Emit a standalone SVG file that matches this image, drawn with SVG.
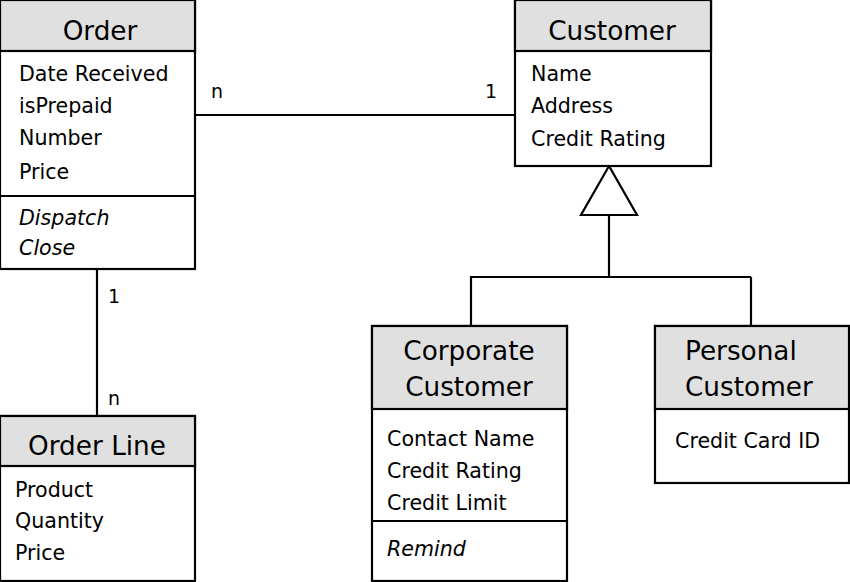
<svg xmlns="http://www.w3.org/2000/svg" width="850" height="582" viewBox="0 0 850 582">
<style>
.box{fill:#ffffff;stroke:#000;stroke-width:2.2}
.hdr{fill:#e0e0e0;stroke:#000;stroke-width:2.2}
.ln{stroke:#000;stroke-width:2.2;fill:none}
text{font-family:"DejaVu Sans","Liberation Sans",sans-serif;fill:#000}
.t{font-size:26.3px;text-anchor:middle}
.th{font-size:26.3px}
.a{font-size:20.6px}
.op{font-size:20.6px;font-style:italic}
.m{font-size:19px}
</style>
<rect width="850" height="582" fill="#fff"/>
<g id="connectors">
<line class="ln" x1="195" y1="115" x2="515" y2="115"/>
<line class="ln" x1="97" y1="269" x2="97" y2="416"/>
<polygon points="609,166 581,215 637,215" fill="#fff" stroke="#000" stroke-width="2.2"/>
<line class="ln" x1="609" y1="215" x2="609" y2="277"/>
<line class="ln" x1="470" y1="277" x2="751" y2="277"/>
<line class="ln" x1="471" y1="277" x2="471" y2="326"/>
<line class="ln" x1="751" y1="277" x2="751" y2="326"/>
<text class="m" x="211" y="98">n</text>
<text class="m" x="485" y="98">1</text>
<text class="m" x="108" y="303">1</text>
<text class="m" x="108" y="405">n</text>
</g>
<g id="order">
<rect class="box" x="0" y="0" width="195" height="269"/>
<rect class="hdr" x="0" y="0" width="195" height="51"/>
<line class="ln" x1="0" y1="196" x2="195" y2="196"/>
<text class="t" x="100" y="40">Order</text>
<text class="a" x="19" y="81">Date Received</text>
<text class="a" x="19" y="113">isPrepaid</text>
<text class="a" x="19" y="145">Number</text>
<text class="a" x="19" y="179">Price</text>
<text class="op" x="19" y="225">Dispatch</text>
<text class="op" x="19" y="255">Close</text>
</g>
<g id="customer">
<rect class="box" x="515" y="0" width="196" height="166"/>
<rect class="hdr" x="515" y="0" width="196" height="51"/>
<text class="t" x="612" y="40">Customer</text>
<text class="a" x="531" y="81">Name</text>
<text class="a" x="531" y="113">Address</text>
<text class="a" x="531" y="146">Credit Rating</text>
</g>
<g id="orderline">
<rect class="box" x="0" y="416" width="195" height="165"/>
<rect class="hdr" x="0" y="416" width="195" height="50"/>
<text class="t" x="97" y="455">Order Line</text>
<text class="a" x="15" y="497">Product</text>
<text class="a" x="15" y="528">Quantity</text>
<text class="a" x="15" y="560">Price</text>
</g>
<g id="corporate">
<rect class="box" x="372" y="326" width="195" height="255"/>
<rect class="hdr" x="372" y="326" width="195" height="83"/>
<line class="ln" x1="372" y1="521" x2="567" y2="521"/>
<text class="t" x="469" y="360">Corporate</text>
<text class="t" x="469" y="396">Customer</text>
<text class="a" x="387" y="446">Contact Name</text>
<text class="a" x="387" y="478">Credit Rating</text>
<text class="a" x="387" y="510">Credit Limit</text>
<text class="op" x="387" y="556">Remind</text>
</g>
<g id="personal">
<rect class="box" x="655" y="326" width="194" height="157"/>
<rect class="hdr" x="655" y="326" width="194" height="83"/>
<text class="th" x="685" y="360">Personal</text>
<text class="th" x="685" y="396">Customer</text>
<text class="a" x="675" y="448">Credit Card ID</text>
</g>
</svg>
